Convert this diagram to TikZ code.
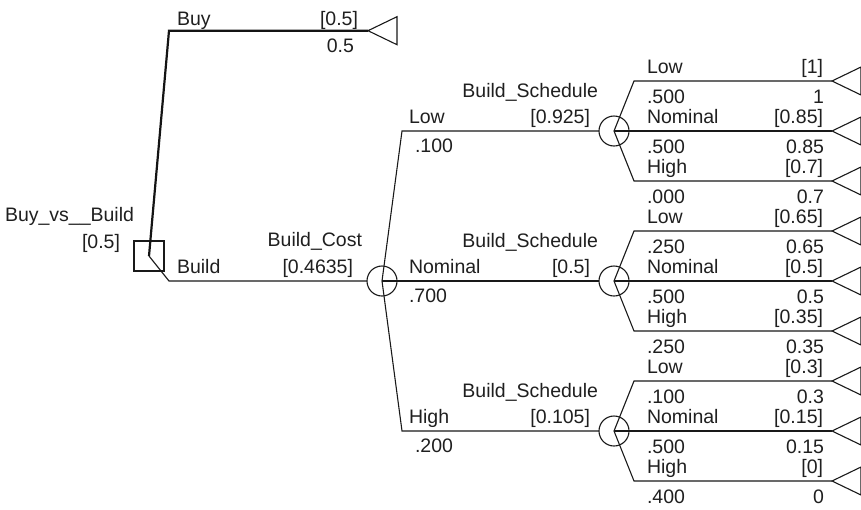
\documentclass[tikz,border=0pt]{standalone}
\usepackage{fontspec}
\setmainfont{Liberation Sans}
\begin{document}
\begin{tikzpicture}[x=1pt,y=-1pt,
  every node/.style={inner sep=0pt,outer sep=0pt,text=black!88,font=\fontsize{19.5}{22}\selectfont},
  branch/.style={draw=black!90,line width=1.1pt,line join=miter},
  best/.style={draw=black!92,line width=2.2pt,line join=miter},
  decbox/.style={draw=black!90,line width=1.1pt,rectangle,minimum size=30pt},
  chancenode/.style={draw=black!90,line width=1.1pt,circle,minimum size=30pt},
  termtri/.style={draw=black!90,line width=1.1pt,line join=miter},
  lt/.style={anchor=base west},
  rt/.style={anchor=base east}]
\useasboundingbox (0,0) rectangle (861,509);

% nodes
\node[decbox] (D) at (149,256) {};
\node[chancenode] (C) at (382,281) {};
\node[chancenode] (S1) at (614,131) {};
\node[chancenode] (S2) at (614,281) {};
\node[chancenode] (S3) at (614,431) {};

% terminal tips
\coordinate (Tb) at (368,30.7);
\foreach \i/\y in {1/81,2/131,3/181,4/231,5/281,6/331,7/381,8/431,9/481}{
  \coordinate (T\i) at (832,\y);
}
\foreach \t in {Tb,T1,T2,T3,T4,T5,T6,T7,T8,T9}{
  \draw[termtri] (\t) -- ++(29,-14) -- ++(0,28) -- cycle;
}

% corners
\coordinate (kBuy) at (169,30.7);
\coordinate (kBuild) at (169,281);
\coordinate (kLow) at (402,131);
\coordinate (kHigh) at (402,431);
\coordinate (k1) at (634,81);
\coordinate (k3) at (634,181);
\coordinate (k4) at (634,231);
\coordinate (k6) at (634,331);
\coordinate (k7) at (634,381);
\coordinate (k9) at (634,481);

% connectors
\draw[best] (D.center) -- (kBuy) -- (Tb);
\draw[branch] (D.center) -- (kBuild) -- (C.west);
\draw[branch] (C.center) -- (kLow) -- (S1.west);
\draw[branch] (C.center) -- (S2.west);
\draw[branch] (C.center) -- (kHigh) -- (S3.west);
\draw[branch] (S1.center) -- (k1) -- (T1);
\draw[branch] (S1.center) -- (T2);
\draw[branch] (S1.center) -- (k3) -- (T3);
\draw[branch] (S2.center) -- (k4) -- (T4);
\draw[branch] (S2.center) -- (T5);
\draw[branch] (S2.center) -- (k6) -- (T6);
\draw[branch] (S3.center) -- (k7) -- (T7);
\draw[branch] (S3.center) -- (T8);
\draw[branch] (S3.center) -- (k9) -- (T9);

% decision labels
\node[rt] (lD1) at (134,221.7) {Buy\_vs\_\_Build};
\node[rt] (lD2) at (120,248) {[0.5]};
\node[lt] (lBuy) at (177,25) {Buy};
\node[rt] (lBuyv) at (358,25) {[0.5]};
\node[rt] (lBuyp) at (354,52) {0.5};
\node[lt] (lBuild) at (177,273) {Build};
\node[rt] (lC1) at (362,246.7) {Build\_Cost};
\node[rt] (lC2) at (353,273) {[0.4635]};

% Build_Cost branch labels
\node[lt] (a1) at (409,123.3) {Low};
\node[lt] (a2) at (415,152.7) {.100};
\node[rt] (a3) at (598,97.3) {Build\_Schedule};
\node[rt] (a4) at (590,123.3) {[0.925]};
\node[lt] (b1) at (409,273.3) {Nominal};
\node[lt] (b2) at (409,302.7) {.700};
\node[rt] (b3) at (598,247.3) {Build\_Schedule};
\node[rt] (b4) at (590,273.3) {[0.5]};
\node[lt] (c1) at (409,423.3) {High};
\node[lt] (c2) at (415,452.7) {.200};
\node[rt] (c3) at (598,397.3) {Build\_Schedule};
\node[rt] (c4) at (590,423.3) {[0.105]};

% terminal branch labels
\foreach \i/\y/\n/\v/\p/\r in {
  1/81/Low/[1]/.500/1,
  2/131/Nominal/[0.85]/.500/0.85,
  3/181/High/[0.7]/.000/0.7,
  4/231/Low/[0.65]/.250/0.65,
  5/281/Nominal/[0.5]/.500/0.5,
  6/331/High/[0.35]/.250/0.35,
  7/381/Low/[0.3]/.100/0.3,
  8/431/Nominal/[0.15]/.500/0.15,
  9/481/High/[0]/.400/0}{
  \node[lt] (n\i) at (647,\y-7.5) {\n};
  \node[rt] (v\i) at (823,\y-7.5) {\v};
  \node[lt] (p\i) at (647,\y+22) {\p};
  \node[rt] (r\i) at (824,\y+22) {\r};
}
\end{tikzpicture}
\end{document}
